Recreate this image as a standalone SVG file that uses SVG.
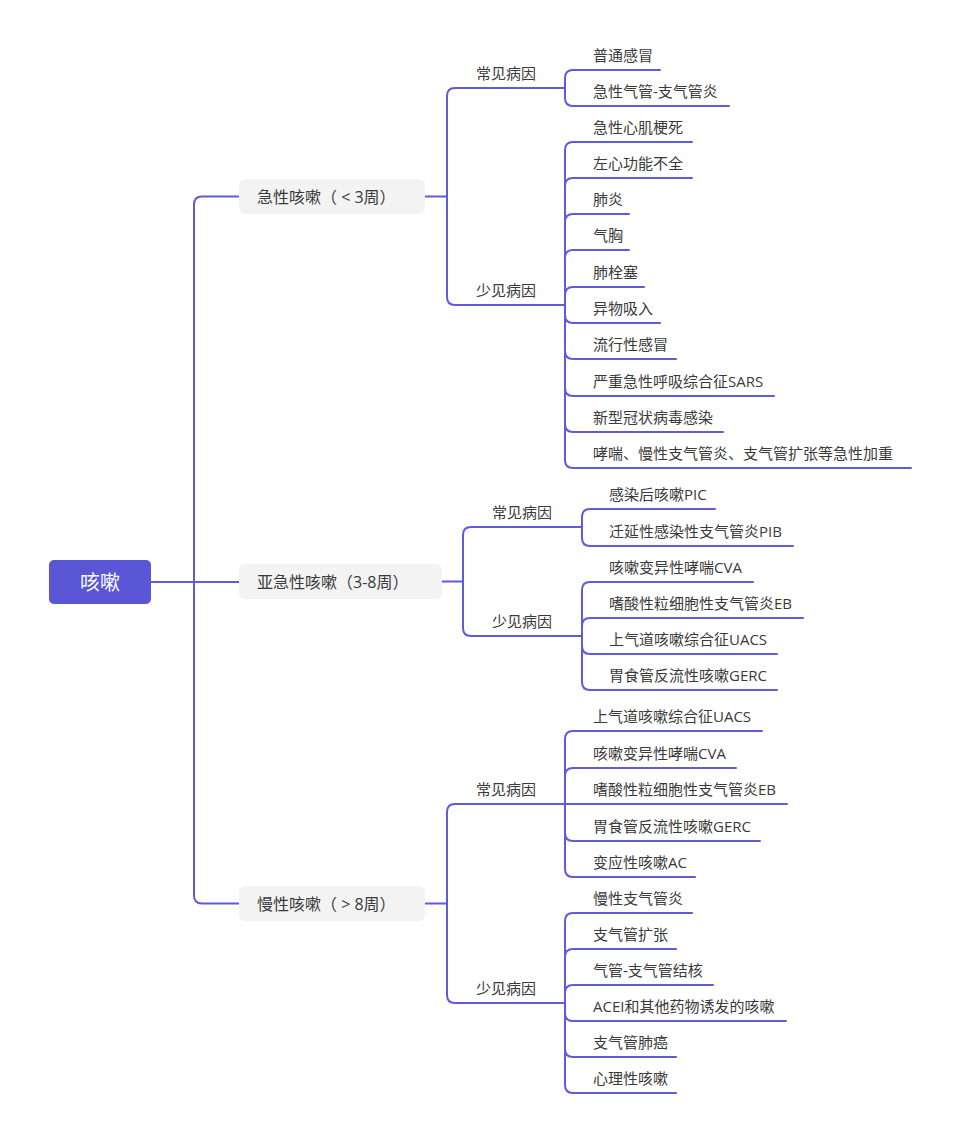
<svg xmlns="http://www.w3.org/2000/svg" width="960" height="1138" viewBox="0 0 960 1138">
<style>
text{font-family:"Open Sans","Noto Sans CJK SC",sans-serif;fill:#3a3a3a;dominant-baseline:central}
.root{font-size:20px;fill:#ffffff;text-anchor:middle}
.b{font-size:16px}
.l2{font-size:15px}
.l3{font-size:15px}
.bx{fill:#f3f3f3}
#connectors path{fill:none;stroke:#5f5bdc;stroke-width:2;stroke-linecap:round}
</style>
<rect width="960" height="1138" fill="#ffffff"/>
<g id="connectors">
<path d="M151 582 H239"/>
<path d="M194 582 V204.5 Q194 196.5 202 196.5 H239"/>
<path d="M194 582 V895.5 Q194 903.5 202 903.5 H239"/>
<path d="M425 196.5 H447 V96 Q447 88 455 88 H565"/>
<path d="M447 196.5 V297 Q447 305 455 305 H565"/>
<path d="M565 88 V78 Q565 70 573 70 H660"/>
<path d="M565 88 V98 Q565 106 573 106 H729"/>
<path d="M565 305 V150 Q565 142 573 142 H692"/>
<path d="M565 305 V186 Q565 178 573 178 H692"/>
<path d="M565 305 V222 Q565 214 573 214 H629"/>
<path d="M565 305 V258 Q565 250 573 250 H629"/>
<path d="M565 305 V295 Q565 287 573 287 H644"/>
<path d="M565 305 V315 Q565 323 573 323 H660"/>
<path d="M565 305 V351 Q565 359 573 359 H676"/>
<path d="M565 305 V388 Q565 396 573 396 H774"/>
<path d="M565 305 V424 Q565 432 573 432 H723"/>
<path d="M565 305 V460 Q565 468 573 468 H911"/>
<path d="M442 581.5 H463 V535 Q463 527 471 527 H582"/>
<path d="M463 581.5 V628 Q463 636 471 636 H582"/>
<path d="M582 527 V517 Q582 509 590 509 H715"/>
<path d="M582 527 V538 Q582 546 590 546 H793"/>
<path d="M582 636 V590 Q582 582 590 582 H753"/>
<path d="M582 636 V626 Q582 618 590 618 H803"/>
<path d="M582 636 V646 Q582 654 590 654 H777"/>
<path d="M582 636 V682 Q582 690 590 690 H777"/>
<path d="M425 903.5 H447 V812 Q447 804 455 804 H565"/>
<path d="M447 903.5 V995 Q447 1003 455 1003 H565"/>
<path d="M565 804 V739 Q565 731 573 731 H762"/>
<path d="M565 804 V776 Q565 768 573 768 H736"/>
<path d="M565 804 H787"/>
<path d="M565 804 V833 Q565 841 573 841 H760"/>
<path d="M565 804 V869 Q565 877 573 877 H695"/>
<path d="M565 1003 V921 Q565 913 573 913 H692"/>
<path d="M565 1003 V957 Q565 949 573 949 H676"/>
<path d="M565 1003 V993 Q565 985 573 985 H713"/>
<path d="M565 1003 V1013 Q565 1021 573 1021 H786"/>
<path d="M565 1003 V1049 Q565 1057 573 1057 H676"/>
<path d="M565 1003 V1085 Q565 1093 573 1093 H676"/>
</g>
<g id="root"><rect x="49" y="560" width="102" height="44" rx="5" fill="#5a56d6"/><text class="root" x="100" y="582">咳嗽</text></g>
<g id="acute"><rect class="bx" x="239" y="179" width="186" height="35" rx="6"/><text class="b" x="257" y="196.5">急性咳嗽（ &lt; 3周）</text></g>
<g id="subacute"><rect class="bx" x="239" y="564" width="203" height="35" rx="6"/><text class="b" x="257" y="581.5">亚急性咳嗽（3-8周）</text></g>
<g id="chronic"><rect class="bx" x="239" y="886" width="186" height="35" rx="6"/><text class="b" x="257" y="903.5">慢性咳嗽（ &gt; 8周）</text></g>
<g id="acute-common"><text class="l2" x="476" y="73">常见病因</text></g>
<g id="acute-rare"><text class="l2" x="476" y="290">少见病因</text></g>
<g id="sub-common"><text class="l2" x="492" y="512">常见病因</text></g>
<g id="sub-rare"><text class="l2" x="492" y="621">少见病因</text></g>
<g id="chr-common"><text class="l2" x="476" y="789">常见病因</text></g>
<g id="chr-rare"><text class="l2" x="476" y="988">少见病因</text></g>
<g id="a1"><text class="l3" x="593" y="55">普通感冒</text></g>
<g id="a2"><text class="l3" x="593" y="91">急性气管-支气管炎</text></g>
<g id="a3"><text class="l3" x="593" y="127">急性心肌梗死</text></g>
<g id="a4"><text class="l3" x="593" y="163">左心功能不全</text></g>
<g id="a5"><text class="l3" x="593" y="199">肺炎</text></g>
<g id="a6"><text class="l3" x="593" y="235">气胸</text></g>
<g id="a7"><text class="l3" x="593" y="272">肺栓塞</text></g>
<g id="a8"><text class="l3" x="593" y="308">异物吸入</text></g>
<g id="a9"><text class="l3" x="593" y="344">流行性感冒</text></g>
<g id="a10"><text class="l3" x="593" y="381">严重急性呼吸综合征SARS</text></g>
<g id="a11"><text class="l3" x="593" y="417">新型冠状病毒感染</text></g>
<g id="a12"><text class="l3" x="593" y="453">哮喘、慢性支气管炎、支气管扩张等急性加重</text></g>
<g id="s1"><text class="l3" x="609" y="494">感染后咳嗽PIC</text></g>
<g id="s2"><text class="l3" x="609" y="531">迁延性感染性支气管炎PIB</text></g>
<g id="s3"><text class="l3" x="609" y="567">咳嗽变异性哮喘CVA</text></g>
<g id="s4"><text class="l3" x="609" y="603">嗜酸性粒细胞性支气管炎EB</text></g>
<g id="s5"><text class="l3" x="609" y="639">上气道咳嗽综合征UACS</text></g>
<g id="s6"><text class="l3" x="609" y="675">胃食管反流性咳嗽GERC</text></g>
<g id="c1"><text class="l3" x="593" y="716">上气道咳嗽综合征UACS</text></g>
<g id="c2"><text class="l3" x="593" y="753">咳嗽变异性哮喘CVA</text></g>
<g id="c3"><text class="l3" x="593" y="789">嗜酸性粒细胞性支气管炎EB</text></g>
<g id="c4"><text class="l3" x="593" y="826">胃食管反流性咳嗽GERC</text></g>
<g id="c5"><text class="l3" x="593" y="862">变应性咳嗽AC</text></g>
<g id="c6"><text class="l3" x="593" y="898">慢性支气管炎</text></g>
<g id="c7"><text class="l3" x="593" y="934">支气管扩张</text></g>
<g id="c8"><text class="l3" x="593" y="970">气管-支气管结核</text></g>
<g id="c9"><text class="l3" x="593" y="1006">ACEI和其他药物诱发的咳嗽</text></g>
<g id="c10"><text class="l3" x="593" y="1042">支气管肺癌</text></g>
<g id="c11"><text class="l3" x="593" y="1078">心理性咳嗽</text></g>
</svg>
